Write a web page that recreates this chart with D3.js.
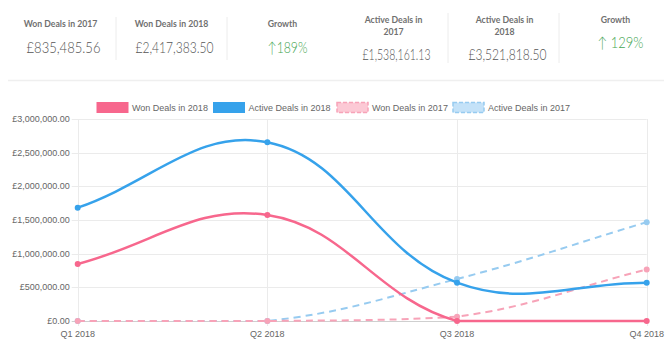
<!DOCTYPE html>
<html>
<head>
<meta charset="utf-8">
<script src="https://cdn.jsdelivr.net/npm/d3@7"></script>
<style>
  html, body { margin: 0; padding: 0; background: #fff; }
  svg { display: block; }
</style>
</head>
<body>
<svg id="chart" width="671" height="354"></svg>
<script>
// summary cards
const cardTitles = [["Won Deals in 2017"], ["Won Deals in 2018"], ["Growth"],
  ["Active Deals in", "2017"], ["Active Deals in", "2018"], ["Growth"]];
const cardValues = ["£835,485.56", "£2,417,383.50", "↑189%", "£1,538,161.13", "£3,521,818.50", "↑ 129%"];

// chart data
const quarters = ["Q1 2018", "Q2 2018", "Q3 2018", "Q4 2018"];
const wonDeals2018 = [847000, 1574000, 0, 0];
const activeDeals2018 = [1683000, 2654000, 569000, 569000];
const wonDeals2017 = [0, 0, 64000, 765000];
const activeDeals2017 = [0, 0, 624000, 1468000];
const yTicks = [0, 500000, 1000000, 1500000, 2000000, 2500000, 3000000];

const series = [
  { name: "Won Deals in 2018", values: wonDeals2018, color: "#f7678d", fill: "#f7678d", dash: null, width: 2.5 },
  { name: "Active Deals in 2018", values: activeDeals2018, color: "#36a2eb", fill: "#36a2eb", dash: null, width: 2.5 },
  { name: "Won Deals in 2017", values: wonDeals2017, color: "#f7a3b8", fill: "#fcc9d5", dash: "7,5", width: 2 },
  { name: "Active Deals in 2017", values: activeDeals2017, color: "#97cbf0", fill: "#c4e2f8", dash: "7,5", width: 2 }
];

const svg = d3.select("#chart");
const textFont = "'Liberation Sans', Arial, sans-serif";
const cardFont = "Lato, 'Open Sans', sans-serif";

// ---- cards ----
const colW = 111, colX0 = 5;
const valueWidths = [74, 78, 40, 68, 78, 46];
const cards = svg.append("g");
cardTitles.forEach((lines, i) => {
  const cx = colX0 + colW * i + colW / 2;
  const second = i >= 3;
  const g = cards.append("g");
  const isGrowth = lines[0] === "Growth";
  let titleY, valueY;
  if (!second) { titleY = 27; valueY = 52.5; }
  else if (isGrowth) { titleY = 22.5; valueY = 47.5; }
  else { titleY = 22.5; valueY = 60; }
  lines.forEach((l, j) => {
    g.append("text")
      .attr("x", cx).attr("y", titleY + j * 12.5)
      .attr("text-anchor", "middle")
      .style("font-family", cardFont).style("font-weight", 700)
      .style("font-size", "8.7px").style("fill", "#707070")
      .text(l);
  });
  g.append("text")
    .attr("x", cx + (isGrowth ? 5 : 3)).attr("y", valueY)
    .attr("text-anchor", "middle")
    .attr("textLength", valueWidths[i]).attr("lengthAdjust", "spacingAndGlyphs")
    .style("font-family", cardFont).style("font-weight", 300)
    .style("font-size", "15px")
    .style("fill", isGrowth ? "#45a552" : "#555")
    .text(cardValues[i]);
});
// dividers
[[116, 17, 60], [227, 17, 60], [448, 13, 63], [559, 13, 63]].forEach(([x, y1, y2]) => {
  cards.append("line").attr("x1", x).attr("x2", x).attr("y1", y1).attr("y2", y2)
    .style("stroke", "#ececec").style("stroke-width", 1);
});
svg.append("line").attr("x1", 8).attr("x2", 664).attr("y1", 80.5).attr("y2", 80.5)
  .style("stroke", "#efefef").style("stroke-width", 1.5);

// ---- chart ----
const area = { left: 77.7, right: 646.7, top: 119, bottom: 321 };
const x = d3.scalePoint().domain(quarters).range([area.left, area.right]).padding(0);
const y = d3.scaleLinear().domain([0, 3000000]).range([area.bottom, area.top]);
const fmt = d => "£" + d3.format(",.2f")(d);

const grid = svg.append("g");
yTicks.forEach(t => {
  grid.append("line")
    .attr("x1", area.left - 6).attr("x2", area.right)
    .attr("y1", Math.round(y(t)) + 0.5).attr("y2", Math.round(y(t)) + 0.5)
    .style("stroke", t === 0 ? "#cfcfcf" : "#ebebeb").style("stroke-width", 1);
  grid.append("text")
    .attr("x", area.left - 8).attr("y", y(t) + 3)
    .attr("text-anchor", "end")
    .style("font-family", textFont).style("font-size", "9px").style("fill", "#666")
    .text(fmt(t));
});
quarters.forEach(q => {
  grid.append("line")
    .attr("x1", Math.round(x(q)) + 0.5).attr("x2", Math.round(x(q)) + 0.5)
    .attr("y1", area.top).attr("y2", area.bottom + 5)
    .style("stroke", "#ebebeb").style("stroke-width", 1);
  grid.append("text")
    .attr("x", x(q)).attr("y", area.bottom + 15.5)
    .attr("text-anchor", "middle")
    .style("font-family", textFont).style("font-size", "9px").style("fill", "#666")
    .text(q);
});

// chart.js style bezier (tension 0.4, capped to the chart area)
function splinePath(pts, t) {
  const cps = pts.map((p, i) => {
    const prev = pts[i - 1] || p, next = pts[i + 1] || p;
    const d01 = Math.hypot(p[0] - prev[0], p[1] - prev[1]);
    const d12 = Math.hypot(next[0] - p[0], next[1] - p[1]);
    let s01 = d01 / (d01 + d12), s12 = d12 / (d01 + d12);
    if (isNaN(s01)) s01 = 0;
    if (isNaN(s12)) s12 = 0;
    const fa = t * s01, fb = t * s12;
    const cap = (v, lo, hi) => Math.max(lo, Math.min(hi, v));
    return {
      prev: [cap(p[0] - fa * (next[0] - prev[0]), area.left, area.right), cap(p[1] - fa * (next[1] - prev[1]), area.top, area.bottom)],
      next: [cap(p[0] + fb * (next[0] - prev[0]), area.left, area.right), cap(p[1] + fb * (next[1] - prev[1]), area.top, area.bottom)]
    };
  });
  const path = d3.path();
  path.moveTo(pts[0][0], pts[0][1]);
  for (let i = 1; i < pts.length; i++) {
    path.bezierCurveTo(cps[i - 1].next[0], cps[i - 1].next[1], cps[i].prev[0], cps[i].prev[1], pts[i][0], pts[i][1]);
  }
  return path.toString();
}

const lines = svg.append("g");
series.slice().reverse().forEach(s => {
  const pts = s.values.map((v, i) => [x(quarters[i]), y(v)]);
  lines.append("path")
    .attr("d", splinePath(pts, 0.4))
    .style("fill", "none").style("stroke", s.color)
    .style("stroke-width", s.width)
    .style("stroke-dasharray", s.dash);
  lines.selectAll(null).data(pts).enter().append("circle")
    .attr("cx", d => d[0]).attr("cy", d => d[1]).attr("r", 3)
    .style("fill", s.color);
});

// legend
const legendX = [97, 213.5, 337, 453];
series.forEach((s, i) => {
  const lx = legendX[i];
  svg.append("rect")
    .attr("x", lx).attr("y", 102.5).attr("width", 31).attr("height", 10)
    .style("fill", s.fill).style("stroke", s.color)
    .style("stroke-width", s.dash ? 1.5 : 1)
    .style("stroke-dasharray", s.dash ? "4,2" : null);
  svg.append("text")
    .attr("x", lx + 35).attr("y", 110.5)
    .style("font-family", textFont).style("font-size", "9px").style("fill", "#666")
    .text(s.name);
});
</script>
</body>
</html>
